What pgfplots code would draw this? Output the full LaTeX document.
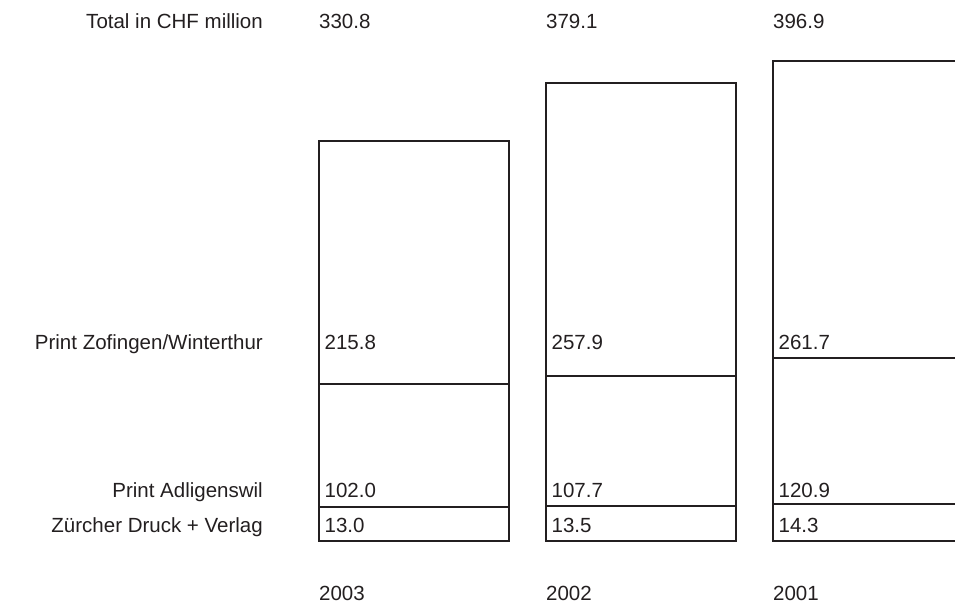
\documentclass[border=0pt]{standalone}
\usepackage{pgfplots}
\usepackage{pgfplotstable}
\pgfplotsset{compat=1.18}
\usepackage{fontspec}
\setmainfont{Liberation Sans}
\definecolor{ink}{HTML}{231F20}

% drawn segment heights (bottom segment is drawn enlarged in the original)
\pgfplotstableread{
x bottom middle top
0 28.1 102.0 200.7
1 28.9 107.7 242.5
2 30.6 120.9 245.4
}\bars

\tikzset{lbl/.style={font=\fontsize{20.5}{24}\selectfont, text=ink, inner sep=0pt},
  seg/.style={draw=ink, fill=none, line width=2pt}}

\begin{document}
\begin{tikzpicture}
\begin{axis}[
  width=955pt, height=610pt, scale only axis,
  xmin=-1.8251, xmax=2.3819, ymin=-57.06, ymax=447.37,
  hide axis, ybar stacked, bar width=0.837,
  clip bounding box=upper bound,
]
\addplot[seg] table[x=x,y=bottom]{\bars};
\addplot[seg] table[x=x,y=middle]{\bars};
\addplot[seg] table[x=x,y=top]{\bars};

\coordinate (sw) at (rel axis cs:0,0);
\coordinate (ne) at (rel axis cs:1,1);

\node[lbl, anchor=base east] at (axis cs:-0.6665,423.97) {Total in CHF million};
\node[lbl, anchor=base east] at (axis cs:-0.6665,157.94) {Print Zofingen/Winterthur};
\node[lbl, anchor=base east] at (axis cs:-0.6665,35.56) {Print Adligenswil};
\node[lbl, anchor=base east] at (axis cs:-0.6665,6.62) {Zürcher Druck + Verlag};

\node[lbl, anchor=base west] at (axis cs:-0.42,423.97) {330.8};
\node[lbl, anchor=base west] at (axis cs:0.58,423.97) {379.1};
\node[lbl, anchor=base west] at (axis cs:1.58,423.97) {396.9};

\node[lbl, anchor=base west] at (axis cs:-0.396,157.94) {215.8};
\node[lbl, anchor=base west] at (axis cs:0.604,157.94) {257.9};
\node[lbl, anchor=base west] at (axis cs:1.604,157.94) {261.7};

\node[lbl, anchor=base west] at (axis cs:-0.396,35.56) {102.0};
\node[lbl, anchor=base west] at (axis cs:0.604,35.56) {107.7};
\node[lbl, anchor=base west] at (axis cs:1.604,35.56) {120.9};

\node[lbl, anchor=base west] at (axis cs:-0.396,6.62) {13.0};
\node[lbl, anchor=base west] at (axis cs:0.604,6.62) {13.5};
\node[lbl, anchor=base west] at (axis cs:1.604,6.62) {14.3};

\node[lbl, anchor=base west] at (axis cs:-0.42,-49.4) {2003};
\node[lbl, anchor=base west] at (axis cs:0.58,-49.4) {2002};
\node[lbl, anchor=base west] at (axis cs:1.58,-49.4) {2001};
\end{axis}
\pgfresetboundingbox
\path (sw) rectangle (ne);
\end{tikzpicture}
\end{document}
